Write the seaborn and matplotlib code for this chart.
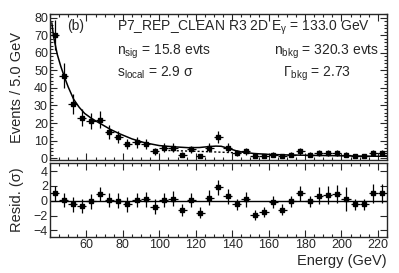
import matplotlib
matplotlib.use("Agg")
import matplotlib.pyplot as plt
import pandas as pd
import seaborn as sns
from matplotlib.ticker import FixedLocator, MultipleLocator

# bin centres (5 GeV bins, 40-225 GeV)
energy = [42.5, 47.5, 52.5, 57.5, 62.5, 67.5, 72.5, 77.5, 82.5, 87.5,
          92.5, 97.5, 102.5, 107.5, 112.5, 117.5, 122.5, 127.5, 132.5, 137.5,
          142.5, 147.5, 152.5, 157.5, 162.5, 167.5, 172.5, 177.5, 182.5, 187.5,
          192.5, 197.5, 202.5, 207.5, 212.5, 217.5, 222.5]
counts = [70, 47, 31, 23, 21, 22, 15, 12, 8, 9,
          8, 4, 6, 6, 2, 5, 1, 6, 12, 6,
          3, 4, 1, 1, 2, 1, 2, 4, 2, 3,
          3, 3, 2, 1, 1, 3, 3]
count_err = [8.4, 6.9, 5.6, 4.8, 4.6, 4.7, 3.9, 3.5, 2.8, 3.0,
             2.8, 2.0, 2.4, 2.4, 1.4, 2.2, 1.0, 2.4, 3.5, 2.4,
             1.7, 2.0, 1.0, 1.0, 1.4, 1.0, 1.4, 2.0, 1.4, 1.7,
             1.7, 1.7, 1.4, 1.0, 1.0, 1.7, 1.7]
resid = [1.0, 0.1, -0.5, -0.7, -0.1, 0.9, 0.1, 0.0, -0.5, 0.1,
         0.2, -0.8, 0.1, 0.3, -1.2, 0.1, -1.6, 0.4, 1.8, 0.6,
         -0.5, 0.2, -1.9, -1.5, -0.2, -1.2, -0.1, 1.0, -0.1, 0.7,
         0.8, 0.9, 0.2, -0.5, -0.5, 1.0, 1.0]
resid_err = [1.0, 1.0, 1.0, 1.0, 1.0, 1.0, 1.0, 1.0, 1.0, 1.0,
             1.0, 1.0, 1.0, 1.0, 0.8, 1.0, 0.8, 1.0, 1.0, 1.0,
             0.8, 1.0, 0.7, 0.7, 0.8, 0.7, 0.8, 1.0, 0.8, 1.2,
             1.2, 1.2, 1.6, 0.7, 0.7, 1.3, 1.3]

# fitted model (signal + background)
fit_x = [41.0, 42.0, 44.0, 46.0, 48.0, 50.0, 53.0, 56.0, 59.0, 63.0,
         68.0, 73.0, 78.0, 85.0, 92.0, 100.0, 108.0, 116.0, 122.0, 127.0,
         131.0, 134.0, 138.0, 142.0, 146.0, 152.0, 160.0, 170.0, 185.0, 200.0,
         212.0, 225.0]
fit_y = [77.0, 69.0, 59.0, 52.0, 46.0, 40.5, 33.5, 29.0, 25.5, 22.5,
         19.5, 16.5, 14.0, 11.0, 8.8, 7.2, 6.5, 6.0, 6.1, 6.6,
         6.9, 6.8, 5.6, 4.3, 3.4, 2.7, 2.2, 1.9, 1.6, 1.4,
         1.2, 1.1]
# background-only component
bkg_x = [105.0, 115.0, 125.0, 135.0, 142.0, 150.0]
bkg_y = [4.4, 4.1, 3.8, 3.4, 3.1, 2.7]

x_ticks = [60, 80, 100, 120, 140, 160, 180, 200, 220]

sns.set_style("ticks")
plt.rcParams["font.family"] = ["Liberation Sans", "DejaVu Sans"]
plt.rcParams["mathtext.fontset"] = "custom"
plt.rcParams["mathtext.rm"] = "Liberation Sans"
plt.rcParams["mathtext.it"] = "Liberation Sans:italic"

fig = plt.figure(figsize=(3.99, 2.73), dpi=100)
ax = fig.add_axes([0.1253, 0.4139, 0.8446, 0.5348])
axr = fig.add_axes([0.1253, 0.1319, 0.8446, 0.2711])

fit_df = pd.DataFrame({"energy": fit_x, "events": fit_y})
bkg_df = pd.DataFrame({"energy": bkg_x, "events": bkg_y})
sns.lineplot(data=fit_df, x="energy", y="events", color="black", linewidth=1.1, ax=ax)
sns.lineplot(data=bkg_df, x="energy", y="events", color="black", linewidth=1.0,
             linestyle=(0, (1.5, 1.5)), ax=ax)

ax.errorbar(energy, counts, yerr=count_err, xerr=2.5, fmt="s", color="black",
            markersize=2.6, elinewidth=0.9, capsize=0)
axr.errorbar(energy, resid, yerr=resid_err, xerr=2.5, fmt="s", color="black",
             markersize=2.6, elinewidth=0.9, capsize=0)
axr.axhline(0, color="black", linewidth=1.0)

ax.set_xlim(40, 225)
ax.set_ylim(-1, 82)
axr.set_xlim(40, 225)
axr.set_ylim(-4.9, 5.1)

for a in (ax, axr):
    a.xaxis.set_major_locator(FixedLocator(x_ticks))
    a.xaxis.set_minor_locator(MultipleLocator(5))
    a.tick_params(which="both", direction="in", top=True, right=True,
                  labelsize=9, pad=1.5, width=0.8)
    a.tick_params(which="major", length=5)
    a.tick_params(which="minor", length=2.5)
    for s in a.spines.values():
        s.set_linewidth(1.0)
    a.set_xlabel("")
    a.set_ylabel("")

ax.yaxis.set_major_locator(MultipleLocator(10))
ax.yaxis.set_minor_locator(MultipleLocator(2))
ax.tick_params(axis="x", labelbottom=False)
axr.yaxis.set_major_locator(MultipleLocator(2))
axr.yaxis.set_minor_locator(MultipleLocator(2))

ax.set_ylabel("Events / 5.0 GeV", fontsize=10.5)
axr.set_ylabel("Resid. (σ)", fontsize=10.5)
ax.yaxis.set_label_coords(-0.078, 0.5)
axr.yaxis.set_label_coords(-0.078, 0.5)
axr.set_xlabel("Energy (GeV)", fontsize=10.5, loc="right", labelpad=2)

ax.text(0.05, 0.965, "(b)", transform=ax.transAxes, fontsize=10, va="top")
ax.text(0.2, 0.965, r"P7_REP_CLEAN R3 2D E$_{\mathrm{γ}}$ = 133.0 GeV",
        transform=ax.transAxes, fontsize=10, va="top")
ax.text(0.2, 0.805, r"n$_{\mathrm{sig}}$ = 15.8 evts",
        transform=ax.transAxes, fontsize=10, va="top")
ax.text(0.665, 0.805, r"n$_{\mathrm{bkg}}$ = 320.3 evts",
        transform=ax.transAxes, fontsize=10, va="top")
ax.text(0.2, 0.655, r"s$_{\mathrm{local}}$ = 2.9 σ",
        transform=ax.transAxes, fontsize=10, va="top")
ax.text(0.69, 0.655, r"Γ$_{\mathrm{bkg}}$ = 2.73",
        transform=ax.transAxes, fontsize=10, va="top")

fig.savefig("out.png", dpi=100)
